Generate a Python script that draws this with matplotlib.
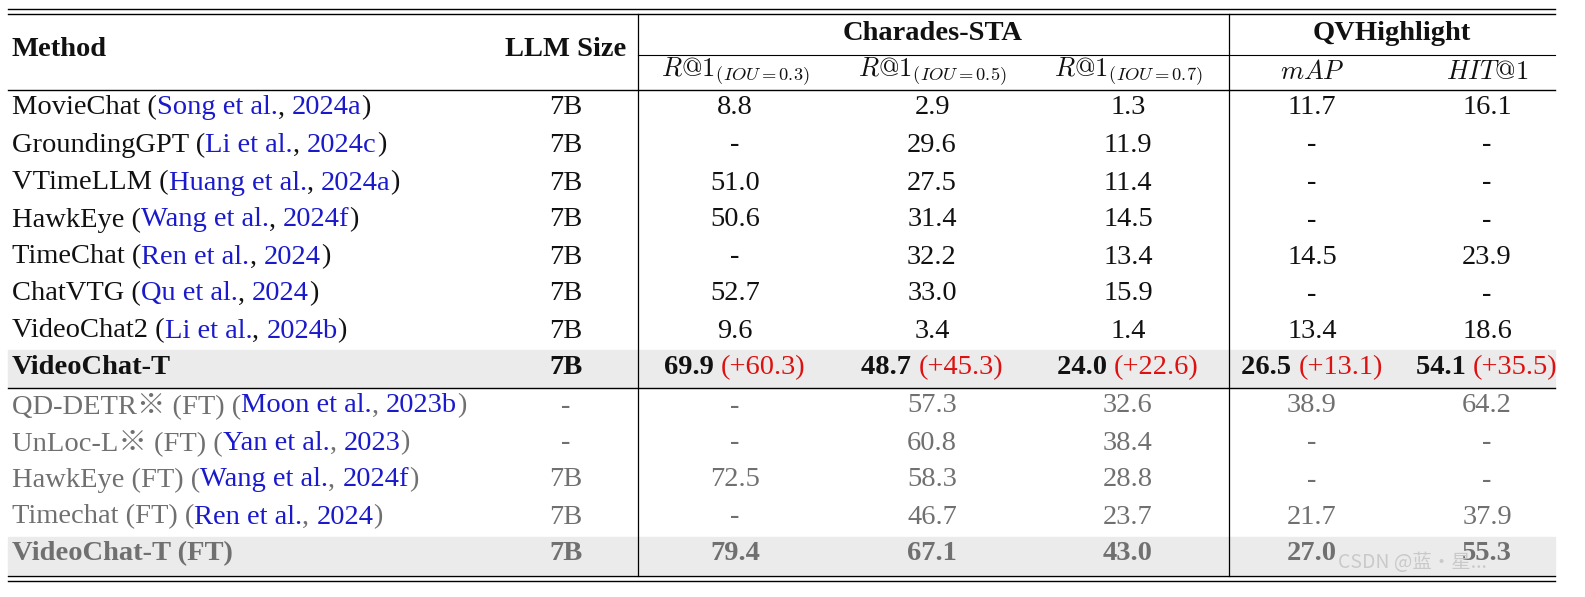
import matplotlib
matplotlib.use("Agg")
import matplotlib.pyplot as plt
from matplotlib.patches import Rectangle

plt.rcParams['mathtext.fontset'] = 'cm'
SERIF = ['Liberation Serif', 'Noto Sans CJK SC', 'DejaVu Serif']

methods = ["MovieChat", "GroundingGPT", "VTimeLLM", "HawkEye", "TimeChat", "ChatVTG", "VideoChat2", "VideoChat-T",
           "QD-DETR※ (FT)", "UnLoc-L※ (FT)", "HawkEye (FT)", "Timechat (FT)", "VideoChat-T (FT)"]
cite_names = ["Song et al.", "Li et al.", "Huang et al.", "Wang et al.", "Ren et al.", "Qu et al.", "Li et al.", None,
              "Moon et al.", "Yan et al.", "Wang et al.", "Ren et al.", None]
cite_years = ["2024a", "2024c", "2024a", "2024f", "2024", "2024", "2024b", None,
              "2023b", "2023", "2024f", "2024", None]
llm_size = ["7B"] * 8 + ["-", "-", "7B", "7B", "7B"]
r03 = ["8.8", "-", "51.0", "50.6", "-", "52.7", "9.6", "69.9", "-", "-", "72.5", "-", "79.4"]
r05 = ["2.9", "29.6", "27.5", "31.4", "32.2", "33.0", "3.4", "48.7", "57.3", "60.8", "58.3", "46.7", "67.1"]
r07 = ["1.3", "11.9", "11.4", "14.5", "13.4", "15.9", "1.4", "24.0", "32.6", "38.4", "28.8", "23.7", "43.0"]
mAP = ["11.7", "-", "-", "-", "14.5", "-", "13.4", "26.5", "38.9", "-", "-", "21.7", "27.0"]
hit1 = ["16.1", "-", "-", "-", "23.9", "-", "18.6", "54.1", "64.2", "-", "-", "37.9", "55.3"]
gains = {7: ["(+60.3)", "(+45.3)", "(+22.6)", "(+13.1)", "(+35.5)"]}

W, H = 1585, 597
fig = plt.figure(figsize=(W / 100, H / 100), dpi=100)
ax = fig.add_axes([0, 0, 1, 1])
ax.set_xlim(0, W); ax.set_ylim(H, 0); ax.axis('off')
r = fig.canvas.get_renderer()
FS = 20.5
BLACK, BLUE, RED, GRAY = '#111111', '#1a1acc', '#dd1111', '#707070'

def width(s, bold=False):
    t = ax.text(0, 0, s, fontsize=FS, family=SERIF, fontweight='bold' if bold else 'normal')
    bb = t.get_window_extent(renderer=r)
    t.remove()
    return bb.width

def segs(x, y, parts, align='left'):
    tot = sum(width(s, b) for s, c, b in parts)
    if align == 'center':
        x -= tot / 2
    for s, c, b in parts:
        ax.text(x, y, s, fontsize=FS, family=SERIF, color=c, fontweight='bold' if b else 'normal',
                va='center', ha='left')
        x += width(s, b)

for y0, y1 in [(350, 387), (537, 574)]:
    ax.add_patch(Rectangle((8, y0), 1547, y1 - y0, color='#ebebeb', zorder=0))

def hline(y, x0=8, x1=1555, lw=1.0):
    ax.plot([x0, x1], [y, y], color='black', lw=lw)
hline(9); hline(14); hline(90); hline(388); hline(576); hline(581)
hline(55, 638, 1555, 0.8)
for x in [638, 1229]:
    ax.plot([x, x], [14, 576], color='black', lw=0.9)

segs(12, 50, [("Method", BLACK, True)])
segs(566, 50, [("LLM Size", BLACK, True)], 'center')
segs(933, 33, [("Charades-STA", BLACK, True)], 'center')
segs(1392, 33, [("QVHighlight", BLACK, True)], 'center')
cx = [735, 932, 1128, 1312, 1487]
subs = [r"$R@1_{(IOU=0.3)}$", r"$R@1_{(IOU=0.5)}$", r"$R@1_{(IOU=0.7)}$", r"$mAP$", r"$HIT@1$"]
for x, s in zip(cx, subs):
    ax.text(x, 72, s, fontsize=19, ha='center', va='center', color=BLACK)

ys = [108, 145, 183, 220, 257, 294, 331, 368, 406, 443, 480, 517, 554]
for i, y in enumerate(ys):
    base = BLACK if i < 8 else GRAY
    bold = cite_names[i] is None
    if bold:
        segs(12, y, [(methods[i], base, True)])
    else:
        segs(12, y, [(methods[i] + " (", base, False), (cite_names[i], BLUE, False), (", ", base, False),
                     (cite_years[i], BLUE, False), (")", base, False)])
    segs(566, y, [(llm_size[i], base, bold)], 'center')
    for j, (x, col) in enumerate(zip(cx, [r03, r05, r07, mAP, hit1])):
        if i in gains:
            segs(x, y, [(col[i] + " ", base, True), (gains[i][j], RED, False)], 'center')
        else:
            segs(x, y, [(col[i], base, bold)], 'center')

ax.text(1338, 562, "CSDN @蓝·星...", fontsize=14, family=['Noto Sans CJK SC', 'DejaVu Sans'],
        color='#c4c4c4', alpha=0.85, va='center', ha='left')

fig.savefig("out.png", dpi=100)
